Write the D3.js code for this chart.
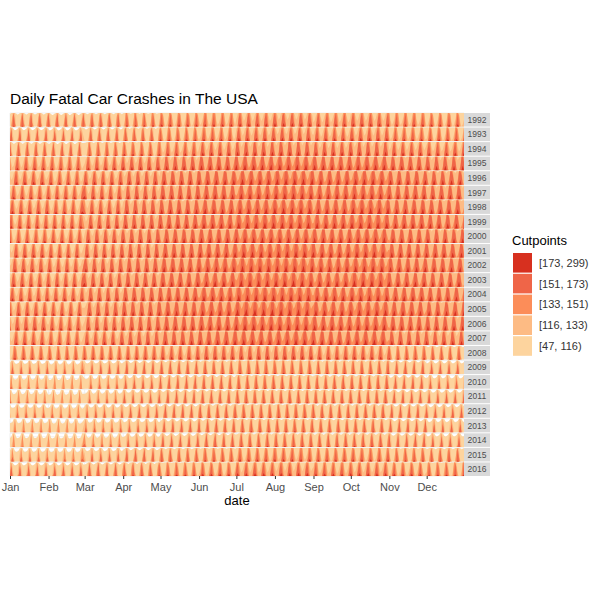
<!DOCTYPE html>
<html>
<head>
<meta charset="utf-8">
<script src="https://cdn.jsdelivr.net/npm/d3@7"></script>
<style>
  html, body { margin: 0; padding: 0; background: #fff; }
  text { font-family: "Liberation Sans", Arial, sans-serif; }
</style>
</head>
<body>
<div id="chart"></div>
<script>
// facet rows
const years = d3.range(1992, 2017);

// mean daily fatal crashes per month (Jan..Dec), one row per year
const monthlyLevels = [
  [130, 128, 132, 135, 140, 142, 148, 150, 146, 148, 142, 140], // 1992
  [124, 122, 128, 132, 138, 142, 148, 150, 146, 148, 142, 140], // 1993
  [130, 128, 134, 138, 144, 148, 153, 155, 151, 153, 148, 146], // 1994
  [144, 142, 146, 150, 155, 160, 164, 166, 162, 164, 158, 155], // 1995
  [147, 144, 148, 152, 157, 161, 166, 168, 164, 166, 160, 157], // 1996
  [145, 145, 148, 152, 157, 161, 166, 168, 164, 166, 161, 157], // 1997
  [147, 144, 148, 154, 158, 162, 166, 168, 164, 168, 161, 159], // 1998
  [145, 145, 150, 154, 159, 163, 168, 168, 165, 168, 162, 160], // 1999
  [143, 145, 150, 154, 159, 162, 166, 166, 164, 166, 160, 157], // 2000
  [147, 145, 150, 154, 159, 163, 168, 170, 165, 168, 161, 160], // 2001
  [149, 147, 152, 156, 161, 165, 170, 170, 166, 168, 162, 160], // 2002
  [147, 147, 152, 156, 161, 165, 170, 170, 166, 170, 162, 160], // 2003
  [147, 147, 152, 156, 161, 165, 170, 170, 166, 168, 162, 160], // 2004
  [147, 145, 152, 156, 161, 165, 171, 171, 166, 168, 162, 159], // 2005
  [149, 145, 150, 154, 159, 163, 168, 168, 164, 166, 160, 157], // 2006
  [145, 143, 148, 152, 157, 161, 164, 166, 162, 164, 156, 153], // 2007
  [138, 136, 139, 141, 145, 148, 150, 150, 146, 146, 136, 132], // 2008
  [118, 116, 121, 125, 129, 132, 135, 135, 133, 133, 127, 122], // 2009
  [112, 110, 115, 120, 125, 128, 132, 132, 130, 131, 124, 119], // 2010
  [112, 109, 115, 120, 125, 128, 132, 132, 131, 131, 124, 121], // 2011
  [116, 114, 118, 122, 126, 130, 133, 134, 131, 131, 125, 121], // 2012
  [112, 110, 115, 118, 123, 128, 132, 132, 131, 131, 125, 119], // 2013
  [110, 108, 113, 118, 123, 128, 132, 132, 131, 131, 125, 121], // 2014
  [115, 113, 119, 125, 131, 135, 140, 142, 139, 140, 134, 131], // 2015
  [121, 121, 127, 131, 136, 140, 145, 147, 143, 145, 140, 136]  // 2016
];

// relative level by day of week, Sun..Sat
const weekdayFactor = [1.06, 0.87, 0.83, 0.85, 0.89, 1.12, 1.38];

// horizon cutpoints and band colours (low -> high)
const cutpoints = [47, 116, 133, 151, 173, 299];
const bandColors = ["#FDD49E", "#FDBB84", "#FC8D59", "#EF6548", "#D7301F"];
const bandLabels = ["[47, 116)", "[116, 133)", "[133, 151)", "[151, 173)", "[173, 299)"];

const width = 600;
const height = 600;
const panel = { left: 10, right: 464, top: 113, bottom: 476 };
const stripW = 26;

const svg = d3.select("#chart")
  .append("svg")
  .attr("width", width)
  .attr("height", height);

// build daily series, every year placed on a common (leap) calendar year
const daily = years.map((yr, i) => {
  const days = d3.timeDay.range(new Date(yr, 0, 1), new Date(yr + 1, 0, 1));
  return days.map(d => ({
    x: new Date(2000, d.getMonth(), d.getDate()),
    value: monthlyLevels[i][d.getMonth()] * weekdayFactor[d.getDay()]
  }));
});

const x = d3.scaleTime()
  .domain([new Date(2000, 0, 1), new Date(2000, 11, 31)])
  .range([panel.left, panel.right]);

const row = d3.scaleBand()
  .domain(years)
  .range([panel.top, panel.bottom])
  .paddingInner(0.07);

const rowH = row.bandwidth();

// each band rescaled to fill the full row height
const bandY = d3.scaleLinear().domain([0, 1]).range([rowH, 0]);

years.forEach((yr, i) => {
  const g = svg.append("g")
    .attr("transform", `translate(0,${row(yr)})`);

  // faint grid
  g.selectAll("line.h")
    .data(d3.range(0, 1.001, 0.25))
    .enter()
    .append("line")
    .attr("x1", panel.left)
    .attr("x2", panel.right)
    .attr("y1", d => bandY(d))
    .attr("y2", d => bandY(d))
    .attr("stroke", "#EBEBEB")
    .attr("stroke-width", 0.8);

  g.selectAll("line.v")
    .data(x.ticks(d3.timeMonth))
    .enter()
    .append("line")
    .attr("x1", d => x(d))
    .attr("x2", d => x(d))
    .attr("y1", 0)
    .attr("y2", rowH)
    .attr("stroke", "#EBEBEB")
    .attr("stroke-width", 0.8);

  bandColors.forEach((col, b) => {
    const lo = cutpoints[b];
    const hi = cutpoints[b + 1];
    const area = d3.area()
      .x(d => x(d.x))
      .y0(bandY(0))
      .y1(d => bandY(Math.max(0, Math.min(1, (d.value - lo) / (hi - lo)))));
    g.append("path")
      .datum(daily[i])
      .attr("d", area)
      .attr("fill", col);
  });

  // strip on the right
  g.append("rect")
    .attr("x", panel.right)
    .attr("y", 0)
    .attr("width", stripW)
    .attr("height", rowH)
    .attr("fill", "#D9D9D9");

  g.append("text")
    .attr("x", panel.right + stripW / 2)
    .attr("y", rowH / 2)
    .attr("dy", "0.35em")
    .attr("text-anchor", "middle")
    .attr("font-size", 8.5)
    .attr("fill", "#4D4D4D")
    .text(yr);
});

// x axis
const xAxis = svg.append("g")
  .attr("transform", `translate(0,${panel.bottom})`)
  .call(d3.axisBottom(x)
    .ticks(d3.timeMonth)
    .tickFormat(d3.timeFormat("%b"))
    .tickSize(3)
    .tickPadding(4));

xAxis.select(".domain").remove();
xAxis.selectAll(".tick line").attr("stroke", "#333333");
xAxis.selectAll(".tick text")
  .attr("font-size", 11)
  .attr("fill", "#4D4D4D")
  .style("font-family", "Liberation Sans, Arial, sans-serif");

svg.append("text")
  .attr("x", (panel.left + panel.right) / 2)
  .attr("y", 505)
  .attr("text-anchor", "middle")
  .attr("font-size", 13)
  .attr("fill", "#000")
  .text("date");

// title
svg.append("text")
  .attr("x", 10)
  .attr("y", 104)
  .attr("font-size", 15.5)
  .attr("fill", "#000")
  .text("Daily Fatal Car Crashes in The USA");

// legend (high -> low)
const legend = svg.append("g").attr("transform", "translate(512,0)");

legend.append("text")
  .attr("x", 0)
  .attr("y", 245)
  .attr("font-size", 13)
  .attr("fill", "#000")
  .text("Cutpoints");

const legendItems = d3.range(bandColors.length).reverse();

legend.selectAll("rect")
  .data(legendItems)
  .enter()
  .append("rect")
  .attr("x", 1)
  .attr("y", (d, i) => 253 + i * 20.8)
  .attr("width", 19)
  .attr("height", 19.6)
  .attr("fill", d => bandColors[d]);

legend.selectAll("text.lab")
  .data(legendItems)
  .enter()
  .append("text")
  .attr("class", "lab")
  .attr("x", 27)
  .attr("y", (d, i) => 253 + i * 20.8 + 10)
  .attr("dy", "0.35em")
  .attr("font-size", 11)
  .attr("fill", "#333333")
  .text(d => bandLabels[d]);
</script>
</body>
</html>
